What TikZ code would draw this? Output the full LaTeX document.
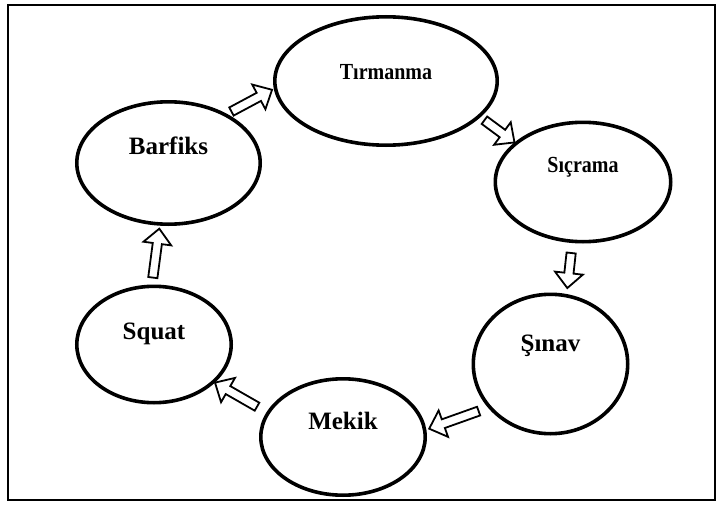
\documentclass[tikz,border=0pt]{standalone}
\usepackage{fontspec}
\setmainfont{Liberation Serif}
\newfontfamily\narrowfont{Liberation Serif}[FakeStretch=0.87]
\usetikzlibrary{shapes.geometric,calc}

\tikzset{
  exer/.style={ellipse, draw=black, line width=3.6pt, inner sep=3pt,
    text height=16.5pt, text depth=#1, font=\bfseries\fontsize{25}{29}\selectfont},
  exernarrow/.style={exer=#1, text height=15.2pt, font=\narrowfont\bfseries\fontsize{23}{27}\selectfont},
  hollow/.style={draw=black, fill=white, line width=1.8pt, line join=miter}
}

% tail anchor, tip anchor, gap at tail, gap at tip
\newcommand{\blockarrow}[4]{%
  \coordinate (bt) at ($(#1)!#3!(#2)$);
  \coordinate (bp) at ($(#2)!#4!(#1)$);
  \coordinate (bh) at ($(bp)!15pt!(bt)$);
  \path[hollow] ($(bt)!4.6pt!90:(bp)$) -- ($(bh)!4.6pt!90:(bp)$) -- ($(bh)!14pt!90:(bp)$) -- (bp)
    -- ($(bh)!14pt!270:(bp)$) -- ($(bh)!4.6pt!270:(bp)$) -- ($(bt)!4.6pt!270:(bp)$) -- cycle;
}

\begin{document}
\begin{tikzpicture}[x=1pt,y=-1pt]
\useasboundingbox (0,0) rectangle (721,506);
\draw[line width=2pt] (7.7,4.5) rectangle (714.5,500);
% the six exercises
\node[exernarrow=18pt, minimum width=222.4pt, minimum height=128.4pt] (tir) at (386,81) {Tırmanma};
\node[exernarrow=34pt, minimum width=175.4pt, minimum height=119.4pt] (sic) at (583,182) {Sıçrama};
\node[exer=41pt, minimum width=154.4pt, minimum height=139.4pt] (sin) at (550.5,364) {Şınav};
\node[exer=31pt, minimum width=164.4pt, minimum height=116.4pt] (mek) at (343,437) {Mekik};
\node[exer=26pt, minimum width=154.4pt, minimum height=116.4pt] (squ) at (154,344.5) {Squat};
\node[exer=33pt, minimum width=183.4pt, minimum height=122.4pt] (bar) at (168.5,163) {Barfiks};
% arrows between them
\blockarrow{bar.40}{tir.184}{5pt}{2pt}
\blockarrow{tir.-21}{sic.150}{5pt}{0pt}
\blockarrow{sic.-100}{sin.77}{10pt}{6pt}
\blockarrow{sin.215}{mek.5}{10pt}{3pt}
\blockarrow{mek.162}{squ.-32}{11pt}{0pt}
\blockarrow{squ.92}{bar.262}{7pt}{3pt}
\end{tikzpicture}
\end{document}
